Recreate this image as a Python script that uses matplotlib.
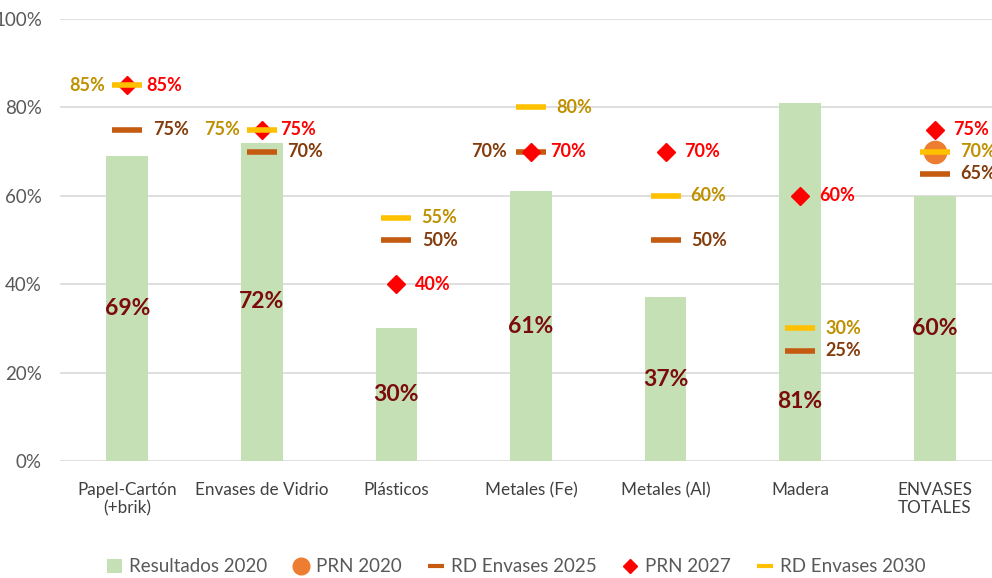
import matplotlib
matplotlib.use("Agg")
import matplotlib.pyplot as plt
from matplotlib.lines import Line2D
from matplotlib.patches import Patch
import numpy as np

plt.rcParams['font.family'] = ['Lato', 'DejaVu Sans']

categories = ["Papel-Cartón\n(+brik)", "Envases de Vidrio", "Plásticos", "Metales (Fe)",
              "Metales (Al)", "Madera", "ENVASES\nTOTALES"]
resultados_2020 = [69, 72, 30, 61, 37, 81, 60]
prn_2020 = [None, None, None, None, None, None, 70]
rd_2025 = [75, 70, 50, 70, 50, 25, 65]
prn_2027 = [85, 75, 40, 70, 70, 60, 75]
rd_2030 = [85, 75, 55, 80, 60, 30, 70]
yticks = [0, 20, 40, 60, 80, 100]

# label side for each series: 'r' right, 'l' left
side_2025 = ['r', 'r', 'r', 'l', 'r', 'r', 'r']
side_2027 = ['r'] * 7
side_2030 = ['l', 'l', 'r', 'r', 'r', 'r', 'r']

c_bar = "#C5E0B4"
c_prn20 = "#ED7D31"
c_rd25 = "#C55A11"
c_prn27 = "#FF0000"
c_rd30 = "#FFC000"
c_lab_bar = "#7B0C0C"
c_lab25 = "#843C0C"
c_lab27 = "#FF0000"
c_lab30 = "#BF9000"

fig = plt.figure(figsize=(9.92, 5.78), dpi=100)
ax = fig.add_axes([60/992, 117/578, 942/992, 442/578])

x = np.arange(len(categories))
ax.bar(x, resultados_2020, width=0.31, color=c_bar, zorder=2)
for xi, v in zip(x, resultados_2020):
    yl = v / 2 if v != 81 else 13.5
    ax.text(xi, yl, f"{v}%", ha='center', va='center', color=c_lab_bar,
            fontsize=16.5, fontweight='bold', zorder=6)

px = [xi for xi, v in zip(x, prn_2020) if v is not None]
py = [v for v in prn_2020 if v is not None]
ax.plot(px, py, 'o', color=c_prn20, ms=16, zorder=3, clip_on=False)

ax.plot(x, rd_2025, '_', color=c_rd25, ms=22, mew=4, zorder=4, clip_on=False)
ax.plot(x, prn_2027, 'D', color=c_prn27, ms=9, zorder=5, clip_on=False)
ax.plot(x, rd_2030, '_', color=c_rd30, ms=22, mew=4, zorder=5.5, clip_on=False)

def labels(vals, sides, color, roff, loff):
    for xi, v, s in zip(x, vals, sides):
        off = roff if s == 'r' else -loff
        ax.annotate(f"{v}%", (xi, v), xytext=(off, 0), textcoords='offset points',
                    ha='left' if s == 'r' else 'right', va='center',
                    color=color, fontsize=13, fontweight='bold', zorder=7,
                    annotation_clip=False)

labels(rd_2025, side_2025, c_lab25, 18.5, 17)
labels(prn_2027, side_2027, c_lab27, 13.5, 14)
labels(rd_2030, side_2030, c_lab30, 18, 16)

ax.set_xlim(-0.5, 6.5)
ax.set_ylim(0, 100)
ax.set_yticks(yticks)
ax.set_yticklabels([f"{t}%" for t in yticks])
ax.set_xticks(x)
ax.set_xticklabels(categories)
ax.tick_params(axis='y', length=0, pad=13, labelsize=13.5, labelcolor="#595959")
ax.tick_params(axis='x', length=0, pad=15, labelsize=12.3, labelcolor="#404040")
ax.grid(axis='y', color="#D9D9D9", lw=1.2, zorder=0)
ax.set_axisbelow(True)
for s in ax.spines.values():
    s.set_visible(False)

handles = [
    Patch(facecolor=c_bar, label="Resultados 2020"),
    Line2D([], [], marker='o', ls='none', color=c_prn20, ms=12, label="PRN 2020"),
    Line2D([], [], marker='_', ls='none', color=c_rd25, ms=12, mew=3, label="RD Envases 2025"),
    Line2D([], [], marker='D', ls='none', color=c_prn27, ms=7, label="PRN 2027"),
    Line2D([], [], marker='_', ls='none', color=c_rd30, ms=12, mew=3, label="RD Envases 2030"),
]
leg = fig.legend(handles=handles, loc='center', bbox_to_anchor=(516/992, 1 - 567/578),
                 ncol=5, frameon=False, fontsize=13.5, handlelength=0.8,
                 handletextpad=0.4, columnspacing=1.4, labelcolor="#595959")

fig.savefig("out.png", dpi=100)
